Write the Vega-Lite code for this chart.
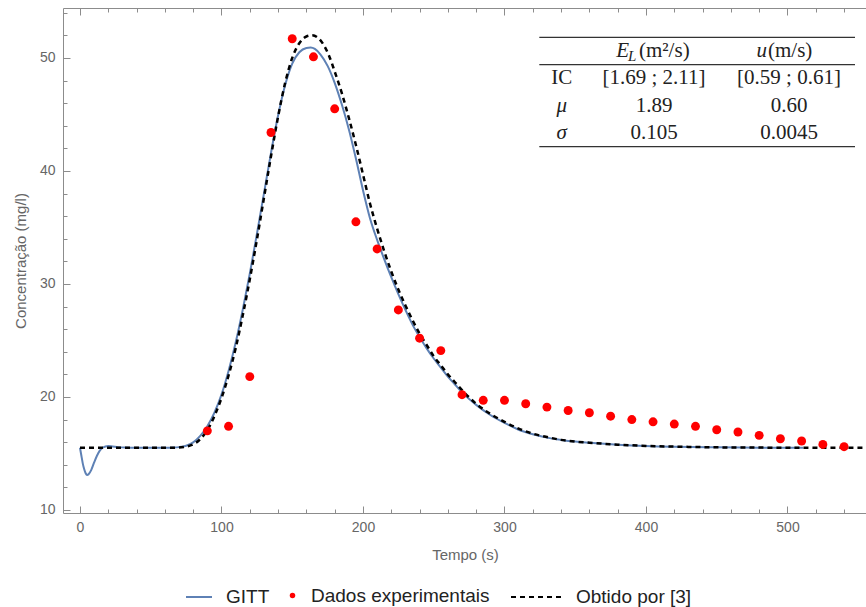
{
  "$schema": "https://vega.github.io/schema/vega-lite/v6.json",
  "width": 804,
  "height": 505,
  "autosize": {"type": "none"},
  "padding": {"left": 63, "top": 8, "right": 0, "bottom": 94},
  "background": "white",
  "config": {
    "view": {"stroke": "#8c8c8c", "strokeWidth": 1},
    "font": "Liberation Sans",
    "legend": {"labelFont": "Liberation Sans", "labelFontSize": 19, "labelColor": "#222222", "labelLimit": 0, "padding": 0, "title": null}
  },
  "datasets": {
    "gitt": [
      {"t": 0, "c": 15.5}, {"t": 1, "c": 14.8}, {"t": 2, "c": 14.1}, {"t": 3, "c": 13.6}, {"t": 4, "c": 13.25}, {"t": 5, "c": 13.1}, {"t": 6, "c": 13.15}, {"t": 8, "c": 13.55}, {"t": 10, "c": 14.2}, {"t": 12, "c": 14.8}, {"t": 14, "c": 15.25}, {"t": 16, "c": 15.5}, {"t": 18, "c": 15.62}, {"t": 20, "c": 15.66}, {"t": 23, "c": 15.62}, {"t": 27, "c": 15.56}, {"t": 32, "c": 15.52}, {"t": 40, "c": 15.5}, {"t": 50, "c": 15.5}, {"t": 60, "c": 15.5}, {"t": 66, "c": 15.52}, {"t": 70, "c": 15.56}, {"t": 75, "c": 15.68}, {"t": 80, "c": 15.98}, {"t": 85, "c": 16.55}, {"t": 90, "c": 17.4}, {"t": 95, "c": 18.6}, {"t": 100, "c": 20.2}, {"t": 105, "c": 22.3}, {"t": 110, "c": 24.8}, {"t": 115, "c": 27.7}, {"t": 120, "c": 30.9}, {"t": 125, "c": 34.4}, {"t": 130, "c": 38.0}, {"t": 135, "c": 41.6}, {"t": 140, "c": 44.9}, {"t": 145, "c": 47.6}, {"t": 150, "c": 49.5}, {"t": 155, "c": 50.5}, {"t": 160, "c": 50.88}, {"t": 163, "c": 50.92}, {"t": 166, "c": 50.8}, {"t": 170, "c": 50.3}, {"t": 175, "c": 49.3}, {"t": 180, "c": 47.8}, {"t": 185, "c": 45.9}, {"t": 190, "c": 43.7}, {"t": 195, "c": 41.1}, {"t": 200, "c": 38.3}, {"t": 205, "c": 35.8}, {"t": 210, "c": 33.9}, {"t": 215, "c": 32.2}, {"t": 220, "c": 30.6}, {"t": 225, "c": 29.1}, {"t": 230, "c": 27.7}, {"t": 235, "c": 26.4}, {"t": 240, "c": 25.3}, {"t": 245, "c": 24.3}, {"t": 250, "c": 23.4}, {"t": 255, "c": 22.6}, {"t": 260, "c": 21.8}, {"t": 265, "c": 21.1}, {"t": 270, "c": 20.4}, {"t": 280, "c": 19.3}, {"t": 290, "c": 18.4}, {"t": 300, "c": 17.7}, {"t": 310, "c": 17.1}, {"t": 320, "c": 16.7}, {"t": 330, "c": 16.4}, {"t": 340, "c": 16.2}, {"t": 350, "c": 16.05}, {"t": 360, "c": 15.95}, {"t": 380, "c": 15.78}, {"t": 400, "c": 15.66}, {"t": 420, "c": 15.59}, {"t": 450, "c": 15.54}, {"t": 480, "c": 15.51}, {"t": 511, "c": 15.5}
    ],
    "obtido": [
      {"t": 0, "c": 15.5}, {"t": 20, "c": 15.5}, {"t": 40, "c": 15.5}, {"t": 60, "c": 15.5}, {"t": 68, "c": 15.51}, {"t": 74, "c": 15.58}, {"t": 79, "c": 15.75}, {"t": 84, "c": 16.15}, {"t": 88, "c": 16.7}, {"t": 92, "c": 17.5}, {"t": 96, "c": 18.6}, {"t": 100, "c": 19.9}, {"t": 105, "c": 21.9}, {"t": 110, "c": 24.3}, {"t": 115, "c": 27.2}, {"t": 120, "c": 30.4}, {"t": 125, "c": 33.9}, {"t": 130, "c": 37.6}, {"t": 135, "c": 41.3}, {"t": 140, "c": 44.8}, {"t": 145, "c": 47.8}, {"t": 150, "c": 50.0}, {"t": 155, "c": 51.3}, {"t": 160, "c": 51.9}, {"t": 164, "c": 52.0}, {"t": 168, "c": 51.8}, {"t": 172, "c": 51.2}, {"t": 176, "c": 50.2}, {"t": 180, "c": 48.8}, {"t": 185, "c": 46.9}, {"t": 190, "c": 44.7}, {"t": 195, "c": 42.3}, {"t": 200, "c": 39.7}, {"t": 205, "c": 37.1}, {"t": 210, "c": 34.9}, {"t": 215, "c": 32.9}, {"t": 220, "c": 31.1}, {"t": 225, "c": 29.5}, {"t": 230, "c": 28.1}, {"t": 235, "c": 26.8}, {"t": 240, "c": 25.6}, {"t": 245, "c": 24.6}, {"t": 250, "c": 23.6}, {"t": 255, "c": 22.8}, {"t": 260, "c": 22.0}, {"t": 265, "c": 21.3}, {"t": 270, "c": 20.6}, {"t": 280, "c": 19.4}, {"t": 290, "c": 18.5}, {"t": 300, "c": 17.8}, {"t": 310, "c": 17.2}, {"t": 320, "c": 16.75}, {"t": 330, "c": 16.45}, {"t": 340, "c": 16.2}, {"t": 350, "c": 16.05}, {"t": 360, "c": 15.95}, {"t": 380, "c": 15.78}, {"t": 400, "c": 15.67}, {"t": 430, "c": 15.58}, {"t": 460, "c": 15.53}, {"t": 500, "c": 15.51}, {"t": 556, "c": 15.5}
    ],
    "dados": [
      {"t": 90, "c": 17.0}, {"t": 105, "c": 17.4}, {"t": 120, "c": 21.8}, {"t": 135, "c": 43.4}, {"t": 150, "c": 51.7}, {"t": 165, "c": 50.1}, {"t": 180, "c": 45.5}, {"t": 195, "c": 35.5}, {"t": 210, "c": 33.1}, {"t": 225, "c": 27.7}, {"t": 240, "c": 25.2}, {"t": 255, "c": 24.1}, {"t": 270, "c": 20.2}, {"t": 285, "c": 19.7}, {"t": 300, "c": 19.7}, {"t": 315, "c": 19.4}, {"t": 330, "c": 19.1}, {"t": 345, "c": 18.8}, {"t": 360, "c": 18.6}, {"t": 375, "c": 18.3}, {"t": 390, "c": 18.0}, {"t": 405, "c": 17.8}, {"t": 420, "c": 17.6}, {"t": 435, "c": 17.4}, {"t": 450, "c": 17.1}, {"t": 465, "c": 16.9}, {"t": 480, "c": 16.6}, {"t": 495, "c": 16.3}, {"t": 510, "c": 16.1}, {"t": 525, "c": 15.8}, {"t": 540, "c": 15.6}
    ],
    "table": [
      {"row": "IC", "col": "stub", "text": "IC"},
      {"row": "mu", "col": "stub", "text": "μ"},
      {"row": "sigma", "col": "stub", "text": "σ"},
      {"row": "IC", "col": "E_L", "text": "[1.69 ; 2.11]"},
      {"row": "IC", "col": "u", "text": "[0.59 ; 0.61]"},
      {"row": "mu", "col": "E_L", "text": "1.89"},
      {"row": "mu", "col": "u", "text": "0.60"},
      {"row": "sigma", "col": "E_L", "text": "0.105"},
      {"row": "sigma", "col": "u", "text": "0.0045"}
    ],
    "header": [
      {"row": "h", "col": "E_L", "part": "sym", "text": "E"},
      {"row": "h", "col": "E_L", "part": "sub", "text": "L"},
      {"row": "h", "col": "E_L", "part": "unit", "text": "(m²/s)"},
      {"row": "h", "col": "u", "part": "sym", "text": "u"},
      {"row": "h", "col": "u", "part": "unit", "text": "(m/s)"}
    ],
    "rules": [
      {"row": "h", "edge": "top"},
      {"row": "h", "edge": "bottom"},
      {"row": "sigma", "edge": "bottom"}
    ]
  },
  "resolve": {"scale": {"x": "independent", "y": "independent"}, "axis": {"x": "independent", "y": "independent"}},
  "layer": [
    {
      "data": {"name": "gitt"},
      "mark": {"type": "line", "strokeWidth": 2, "interpolate": "monotone"},
      "encoding": {
        "x": {"field": "t", "type": "quantitative", "scale": {"domain": [-12, 556.2], "nice": false, "zero": false},
          "axis": {"orient": "bottom", "values": [0,20,40,60,80,100,120,140,160,180,200,220,240,260,280,300,320,340,360,380,400,420,440,460,480,500,520,540],
            "labelExpr": "datum.value % 100 === 0 ? datum.label : ''",
            "tickSize": {"condition": {"test": "datum.value % 100 === 0", "value": -7}, "value": -4},
            "tickColor": "#8c8c8c", "domain": false, "grid": false, "labelPadding": 14, "labelFontSize": 14, "labelColor": "#666666",
            "labelOverlap": false, "labelFlush": false, "labelBound": false,
            "title": "Tempo (s)", "titleFontSize": 15, "titleFontWeight": "normal", "titleColor": "#666666", "titlePadding": 10}},
        "y": {"field": "c", "type": "quantitative", "scale": {"domain": [9.73, 54.42], "nice": false, "zero": false},
          "axis": {"orient": "left", "values": [10,12,14,16,18,20,22,24,26,28,30,32,34,36,38,40,42,44,46,48,50,52,54],
            "labelExpr": "datum.value % 10 === 0 ? datum.label : ''",
            "tickSize": {"condition": {"test": "datum.value % 10 === 0", "value": -7}, "value": -4},
            "tickColor": "#8c8c8c", "domain": false, "grid": false, "labelPadding": 15, "labelFontSize": 14, "labelColor": "#666666",
            "labelOverlap": false, "labelFlush": false, "labelBound": false,
            "title": "Concentração (mg/l)", "titleFontSize": 15, "titleFontWeight": "normal", "titleColor": "#666666", "titlePadding": 11}},
        "stroke": {"datum": "GITT", "type": "nominal", "scale": {"domain": ["GITT"], "range": ["#5E81B5"]},
          "legend": {"orient": "none", "legendX": 122, "legendY": 575, "symbolType": "stroke", "symbolSize": 676, "symbolStrokeWidth": 2, "labelOffset": 13}}
      }
    },
    {
      "data": {"name": "obtido"},
      "mark": {"type": "line", "strokeWidth": 2.5, "color": "black", "interpolate": "monotone"},
      "encoding": {
        "x": {"field": "t", "type": "quantitative", "scale": {"domain": [-12, 556.2], "nice": false, "zero": false}, "axis": null},
        "y": {"field": "c", "type": "quantitative", "scale": {"domain": [9.73, 54.42], "nice": false, "zero": false}, "axis": null},
        "strokeDash": {"datum": "Obtido por [3]", "type": "nominal", "scale": {"domain": ["Obtido por [3]"], "range": [[5, 4]]},
          "legend": {"orient": "none", "legendX": 447, "legendY": 563, "symbolType": "stroke", "symbolSize": 2500, "symbolStrokeWidth": 2, "symbolStrokeColor": "black", "labelOffset": 14}}
      }
    },
    {
      "data": {"name": "dados"},
      "mark": {"type": "circle", "size": 80, "opacity": 1},
      "encoding": {
        "x": {"field": "t", "type": "quantitative", "scale": {"domain": [-12, 556.2], "nice": false, "zero": false},
          "axis": {"orient": "top", "values": [0,20,40,60,80,100,120,140,160,180,200,220,240,260,280,300,320,340,360,380,400,420,440,460,480,500,520,540],
            "labels": false, "tickSize": {"condition": {"test": "datum.value % 100 === 0", "value": -7}, "value": -4},
            "tickColor": "#8c8c8c", "domain": false, "grid": false, "title": null}},
        "y": {"field": "c", "type": "quantitative", "scale": {"domain": [9.73, 54.42], "nice": false, "zero": false}, "axis": null},
        "fill": {"datum": "Dados experimentais", "type": "nominal", "scale": {"domain": ["Dados experimentais"], "range": ["#ff0000"]},
          "legend": {"orient": "none", "legendX": 220, "legendY": 578, "symbolType": "circle", "symbolSize": 30, "labelOffset": 9}}
      }
    },
    {
      "data": {"name": "rules"},
      "transform": [{"filter": "datum.edge === 'top'"}],
      "mark": {"type": "rule", "color": "#333333", "strokeWidth": 1.3},
      "encoding": {
        "x": {"datum": "left", "type": "nominal", "scale": {"type": "point", "domain": ["left", "right"], "range": [476.3, 792], "padding": 0}, "axis": null},
        "x2": {"datum": "right"},
        "y": {"field": "row", "type": "nominal", "bandPosition": 0, "scale": {"type": "band", "domain": ["h", "IC", "mu", "sigma"], "range": [29.3, 138.7], "paddingInner": 0, "paddingOuter": 0}, "axis": null}
      }
    },
    {
      "data": {"name": "rules"},
      "transform": [{"filter": "datum.edge === 'bottom'"}],
      "mark": {"type": "rule", "color": "#333333", "strokeWidth": 1.3},
      "encoding": {
        "x": {"datum": "left", "type": "nominal", "scale": {"type": "point", "domain": ["left", "right"], "range": [476.3, 792], "padding": 0}, "axis": null},
        "x2": {"datum": "right"},
        "y": {"field": "row", "type": "nominal", "bandPosition": 1, "scale": {"type": "band", "domain": ["h", "IC", "mu", "sigma"], "range": [29.3, 138.7], "paddingInner": 0, "paddingOuter": 0}, "axis": null}
      }
    },
    {
      "data": {"name": "table"},
      "transform": [{"filter": "datum.col === 'stub' && datum.row === 'IC'"}],
      "mark": {"type": "text", "font": "Liberation Serif", "fontSize": 21, "color": "#222222", "baseline": "middle", "align": "center"},
      "encoding": {
        "x": {"field": "col", "type": "nominal", "scale": {"type": "point", "domain": ["stub"], "range": [498.7, 498.7], "padding": 0}, "axis": null},
        "y": {"field": "row", "type": "nominal", "scale": {"type": "band", "domain": ["h", "IC", "mu", "sigma"], "range": [29.3, 138.7], "paddingInner": 0, "paddingOuter": 0}, "axis": null},
        "text": {"field": "text"}
      }
    },
    {
      "data": {"name": "table"},
      "transform": [{"filter": "datum.col === 'stub' && datum.row !== 'IC'"}],
      "mark": {"type": "text", "font": "Liberation Serif", "fontSize": 21, "fontStyle": "italic", "color": "#222222", "baseline": "middle", "align": "center"},
      "encoding": {
        "x": {"field": "col", "type": "nominal", "scale": {"type": "point", "domain": ["stub"], "range": [498.7, 498.7], "padding": 0}, "axis": null},
        "y": {"field": "row", "type": "nominal", "scale": {"type": "band", "domain": ["h", "IC", "mu", "sigma"], "range": [29.3, 138.7], "paddingInner": 0, "paddingOuter": 0}, "axis": null},
        "text": {"field": "text"}
      }
    },
    {
      "data": {"name": "table"},
      "transform": [{"filter": "datum.col !== 'stub'"}],
      "mark": {"type": "text", "font": "Liberation Serif", "fontSize": 21, "color": "#222222", "baseline": "middle", "align": "center"},
      "encoding": {
        "x": {"field": "col", "type": "nominal", "scale": {"type": "point", "domain": ["E_L", "u"], "range": [591, 726], "padding": 0}, "axis": null},
        "y": {"field": "row", "type": "nominal", "scale": {"type": "band", "domain": ["h", "IC", "mu", "sigma"], "range": [29.3, 138.7], "paddingInner": 0, "paddingOuter": 0}, "axis": null},
        "text": {"field": "text"}
      }
    },
    {
      "data": {"name": "header"},
      "transform": [{"filter": "datum.col === 'E_L' && datum.part === 'sym'"}],
      "mark": {"type": "text", "font": "Liberation Serif", "fontSize": 21, "fontStyle": "italic", "color": "#222222", "baseline": "middle", "align": "right", "dx": -25},
      "encoding": {
        "x": {"field": "col", "type": "nominal", "scale": {"type": "point", "domain": ["E_L", "u"], "range": [591, 726], "padding": 0}, "axis": null},
        "y": {"field": "row", "type": "nominal", "scale": {"type": "band", "domain": ["h", "IC", "mu", "sigma"], "range": [29.3, 138.7], "paddingInner": 0, "paddingOuter": 0}, "axis": null},
        "text": {"field": "text"}
      }
    },
    {
      "data": {"name": "header"},
      "transform": [{"filter": "datum.part === 'sub'"}],
      "mark": {"type": "text", "font": "Liberation Serif", "fontSize": 15, "fontStyle": "italic", "color": "#222222", "baseline": "middle", "align": "left", "dx": -26, "dy": 5},
      "encoding": {
        "x": {"field": "col", "type": "nominal", "scale": {"type": "point", "domain": ["E_L", "u"], "range": [591, 726], "padding": 0}, "axis": null},
        "y": {"field": "row", "type": "nominal", "scale": {"type": "band", "domain": ["h", "IC", "mu", "sigma"], "range": [29.3, 138.7], "paddingInner": 0, "paddingOuter": 0}, "axis": null},
        "text": {"field": "text"}
      }
    },
    {
      "data": {"name": "header"},
      "transform": [{"filter": "datum.col === 'E_L' && datum.part === 'unit'"}],
      "mark": {"type": "text", "font": "Liberation Serif", "fontSize": 21, "color": "#222222", "baseline": "middle", "align": "left", "dx": -15},
      "encoding": {
        "x": {"field": "col", "type": "nominal", "scale": {"type": "point", "domain": ["E_L", "u"], "range": [591, 726], "padding": 0}, "axis": null},
        "y": {"field": "row", "type": "nominal", "scale": {"type": "band", "domain": ["h", "IC", "mu", "sigma"], "range": [29.3, 138.7], "paddingInner": 0, "paddingOuter": 0}, "axis": null},
        "text": {"field": "text"}
      }
    },
    {
      "data": {"name": "header"},
      "transform": [{"filter": "datum.col === 'u' && datum.part === 'sym'"}],
      "mark": {"type": "text", "font": "Liberation Serif", "fontSize": 21, "fontStyle": "italic", "color": "#222222", "baseline": "middle", "align": "right", "dx": -22},
      "encoding": {
        "x": {"field": "col", "type": "nominal", "scale": {"type": "point", "domain": ["E_L", "u"], "range": [591, 726], "padding": 0}, "axis": null},
        "y": {"field": "row", "type": "nominal", "scale": {"type": "band", "domain": ["h", "IC", "mu", "sigma"], "range": [29.3, 138.7], "paddingInner": 0, "paddingOuter": 0}, "axis": null},
        "text": {"field": "text"}
      }
    },
    {
      "data": {"name": "header"},
      "transform": [{"filter": "datum.col === 'u' && datum.part === 'unit'"}],
      "mark": {"type": "text", "font": "Liberation Serif", "fontSize": 21, "color": "#222222", "baseline": "middle", "align": "left", "dx": -21},
      "encoding": {
        "x": {"field": "col", "type": "nominal", "scale": {"type": "point", "domain": ["E_L", "u"], "range": [591, 726], "padding": 0}, "axis": null},
        "y": {"field": "row", "type": "nominal", "scale": {"type": "band", "domain": ["h", "IC", "mu", "sigma"], "range": [29.3, 138.7], "paddingInner": 0, "paddingOuter": 0}, "axis": null},
        "text": {"field": "text"}
      }
    }
  ]
}
